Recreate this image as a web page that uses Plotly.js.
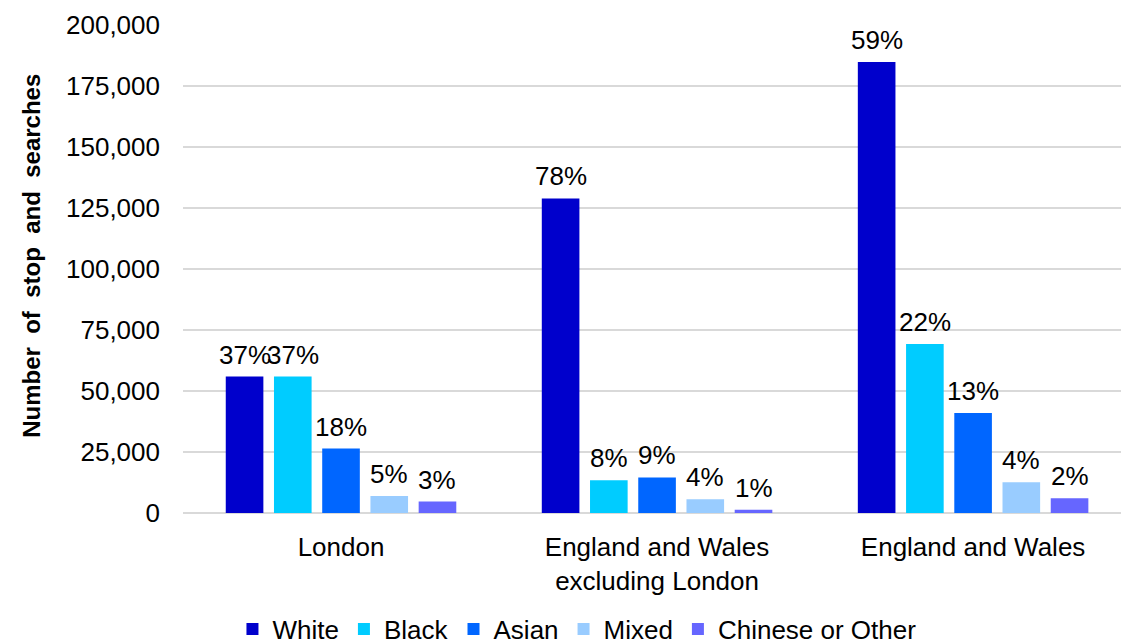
<!DOCTYPE html>
<html>
<head>
<meta charset="utf-8">
<script src="https://cdn.plot.ly/plotly-3.0.1.min.js"></script>
<style>html,body{margin:0;padding:0;background:#fff;}#chart{width:1121px;height:644px;}</style>
</head>
<body>
<div id="chart"></div>
<script>
const categories = ["London", "England and Wales<br>excluding London", "England and Wales"];
const seriesNames = ["White", "Black", "Asian", "Mixed", "Chinese or Other"];
const white = [55900, 128900, 184800];
const black = [55900, 13400, 69300];
const asian = [26400, 14600, 41000];
const mixed = [7000, 5600, 12600];
const other = [4700, 1300, 6000];
const whitePct = ["37%", "78%", "59%"];
const blackPct = ["37%", "8%", "22%"];
const asianPct = ["18%", "9%", "13%"];
const mixedPct = ["5%", "4%", "4%"];
const otherPct = ["3%", "1%", "2%"];
const yTicks = [0, 25000, 50000, 75000, 100000, 125000, 150000, 175000, 200000];

const values = [white, black, asian, mixed, other];
const pcts = [whitePct, blackPct, asianPct, mixedPct, otherPct];
const colors = ["#0000CC", "#00CCFF", "#0066FF", "#99CCFF", "#6666FF"];
const FONT = "Liberation Sans, Arial, sans-serif";
const FS = 26;
const bargap = 0.237;
const nSeries = values.length;
const slot = (1 - bargap) / nSeries;

const traces = values.map((v, i) => ({
  type: "bar",
  name: seriesNames[i],
  x: categories.map((c, k) => k),
  y: v,
  marker: {color: colors[i]},
  hoverinfo: "skip"
}));

const annotations = [];
values.forEach((v, i) => {
  v.forEach((val, k) => {
    annotations.push({
      xref: "x", yref: "y",
      x: k + (i - (nSeries - 1) / 2) * slot,
      y: val,
      text: pcts[i][k],
      showarrow: false,
      yanchor: "bottom",
      yshift: 5,
      font: {family: FONT, size: FS, color: "#000"}
    });
  });
});

annotations.push({
  xref: "paper", yref: "paper",
  x: 0, xanchor: "center", xshift: -151,
  y: 0.527, yanchor: "middle",
  textangle: -90,
  text: "<b>Number  of  stop  and  searches</b>",
  showarrow: false,
  font: {family: FONT, size: 24, color: "#000"}
});

const layout = {
  width: 1121, height: 644,
  margin: {l: 183, r: 0, t: 25, b: 131, autoexpand: false},
  paper_bgcolor: "#fff", plot_bgcolor: "#fff",
  barmode: "group",
  bargap: bargap,
  bargroupgap: 0.22,
  font: {family: FONT, size: FS, color: "#000"},
  showlegend: true,
  legend: {
    orientation: "h", x: 0.42, xanchor: "center", y: -0.19, yanchor: "top",
    font: {family: FONT, size: FS, color: "#000"},
    itemwidth: 30, traceorder: "normal"
  },
  xaxis: {
    type: "linear",
    range: [-0.5, 2.468],
    tickmode: "array",
    tickvals: categories.map((c, k) => k),
    ticktext: categories,
    showgrid: false, zeroline: false, showline: false, ticks: "",
    tickfont: {family: FONT, size: FS, color: "#000"},
    ticklabelstandoff: 16
  },
  yaxis: {
    range: [0, 200000],
    tickmode: "array",
    tickvals: yTicks,
    ticktext: yTicks.map(t => t.toLocaleString("en-GB")),
    showgrid: true, gridcolor: "#d9d9d9", gridwidth: 1.5,
    zeroline: true, zerolinecolor: "#d9d9d9", zerolinewidth: 1.5,
    showline: false, ticks: "",
    tickfont: {family: FONT, size: FS, color: "#000"},
    ticklabelstandoff: 22
  },
  annotations: annotations
};

Plotly.newPlot("chart", traces, layout, {displayModeBar: false, staticPlot: true});
</script>
</body>
</html>
